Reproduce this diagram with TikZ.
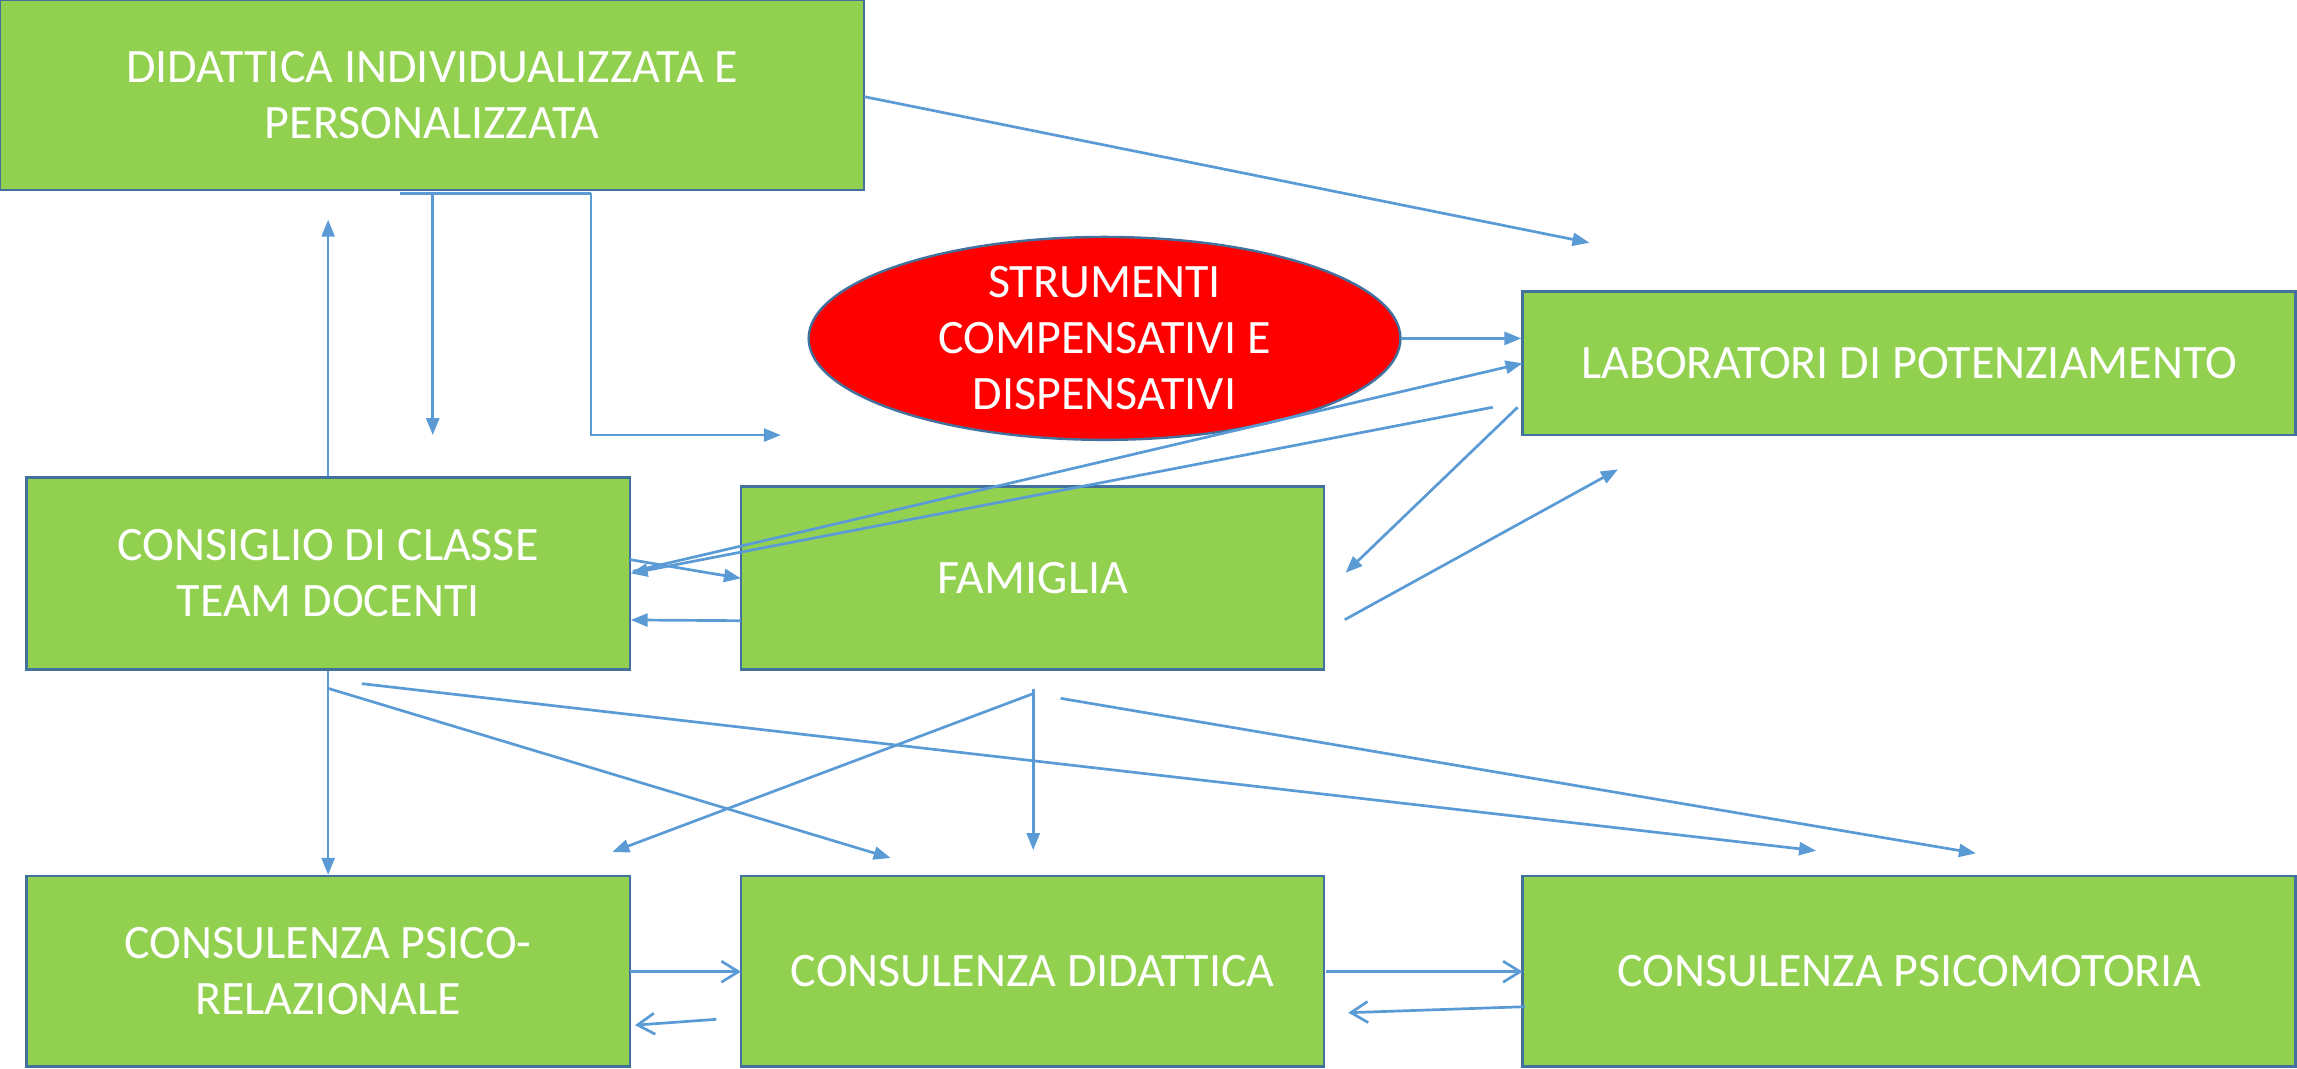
\documentclass[tikz,border=0pt]{standalone}
\usepackage{fontspec}
\setmainfont{Carlito}
\usetikzlibrary{arrows.meta,shapes.geometric}
\definecolor{boxgreen}{HTML}{92D050}
\definecolor{boxedge}{HTML}{41719C}
\definecolor{arrowblue}{HTML}{5B9BD5}
\definecolor{ellred}{HTML}{FF0000}
\begin{document}
\begin{tikzpicture}[x=1.4649pt,y=-1.4649pt,
  gbox/.style={rectangle, draw=boxedge, line width=2.4pt, fill=boxgreen, text=white,
    align=center, font=\fontsize{48}{56}\selectfont, inner sep=0pt},
  rellipse/.style={ellipse, draw=boxedge, line width=2.4pt, fill=ellred, text=white,
    align=center, font=\fontsize{48}{56}\selectfont, inner sep=0pt},
  conn/.style={draw=arrowblue, line width=2.7pt, -{Triangle[length=17pt,width=13pt]}},
  openconn/.style={draw=arrowblue, line width=2.7pt, -{Straight Barb[length=17pt,width=21pt]}},
  plainconn/.style={draw=arrowblue, line width=2.7pt}]
\useasboundingbox (0,0) rectangle (1568,729.06);

% nodes
\node[gbox, minimum width=864pt, minimum height=190pt] (did) at (295,65)
  {DIDATTICA INDIVIDUALIZZATA E\\PERSONALIZZATA};
\node[gbox, minimum width=773pt, minimum height=143.6pt] (lab) at (1303.2,248)
  {LABORATORI DI POTENZIAMENTO};
\node[rellipse, minimum width=591.8pt, minimum height=193.4pt] (ell) at (754,231)
  {STRUMENTI\\COMPENSATIVI E\\DISPENSATIVI};
\node[gbox, minimum width=603.5pt, minimum height=191.9pt] (cons) at (224,391.5)
  {CONSIGLIO DI CLASSE\\TEAM DOCENTI};
\node[gbox, minimum width=583pt, minimum height=183.1pt] (fam) at (705,394.5)
  {FAMIGLIA};
\node[gbox, minimum width=603.5pt, minimum height=190.4pt] (cpr) at (224,663)
  {CONSULENZA PSICO-\\RELAZIONALE};
\node[gbox, minimum width=583pt, minimum height=190.4pt] (cdid) at (705,663)
  {CONSULENZA DIDATTICA};
\node[gbox, minimum width=773pt, minimum height=190.4pt] (cpm) at (1303.2,663)
  {CONSULENZA PSICOMOTORIA};

% free end points
\coordinate (d1) at (590,66);      \coordinate (t1) at (1085,165.7);
\coordinate (hb0) at (273,132);    \coordinate (hb1) at (295.4,132);
\coordinate (hb2) at (403.4,132);  \coordinate (t3) at (295.4,297);
\coordinate (t4) at (533,297);     \coordinate (t5) at (224,150);
\coordinate (s7) at (432,390);     \coordinate (t7) at (1039.3,248);
\coordinate (s8) at (1019,278);    \coordinate (t8) at (430.5,391.4);
\coordinate (s9) at (1036,278);    \coordinate (t9) at (918.5,391);
\coordinate (s10) at (918,423);    \coordinate (t10) at (1104.5,320.4);
\coordinate (s11) at (430,382);    \coordinate (t11) at (505.8,394.8);
\coordinate (s12) at (505.8,423.7);\coordinate (t12) at (430.5,423.2);
\coordinate (s14) at (224.3,470);  \coordinate (t14) at (608,585.7);
\coordinate (s15) at (247,466.7);  \coordinate (t15) at (1239.7,580.7);
\coordinate (s16) at (705.3,473.5);\coordinate (t16) at (418,581.6);
\coordinate (s17) at (705.3,470);  \coordinate (t17) at (705.3,580.3);
\coordinate (s18) at (724,476.7);  \coordinate (t18) at (1348.8,582.5);
\coordinate (s19) at (430,663.3);  \coordinate (t19) at (505.8,663.3);
\coordinate (s20) at (489,695.8);  \coordinate (t20) at (433.5,699.8);
\coordinate (s21) at (905,663.3);  \coordinate (t21) at (1039.4,663.3);
\coordinate (s22) at (1041,687.2); \coordinate (t22) at (920.4,691.3);

% connectors
\draw[conn] (d1) -- (t1);
\draw[plainconn] (hb0) -- (hb2);
\draw[conn] (hb1) -- (t3);
\draw[conn] (hb2) -- (hb2 |- t4) -- (t4);
\draw[conn] (cons.north) -- (t5);
\draw[conn] (ell.east) -- (lab.west |- ell.east);
\draw[conn] (s7) -- (t7);
\draw[conn] (s8) -- (t8);
\draw[conn] (s9) -- (t9);
\draw[conn] (s10) -- (t10);
\draw[conn] (s11) -- (t11);
\draw[conn] (s12) -- (t12);
\draw[conn] (cons.south) -- (cpr.north);
\draw[conn] (s14) -- (t14);
\draw[conn] (s15) -- (t15);
\draw[conn] (s16) -- (t16);
\draw[conn] (s17) -- (t17);
\draw[conn] (s18) -- (t18);
\draw[openconn] (s19) -- (t19);
\draw[openconn] (s20) -- (t20);
\draw[openconn] (s21) -- (t21);
\draw[openconn] (s22) -- (t22);
\end{tikzpicture}
\end{document}
